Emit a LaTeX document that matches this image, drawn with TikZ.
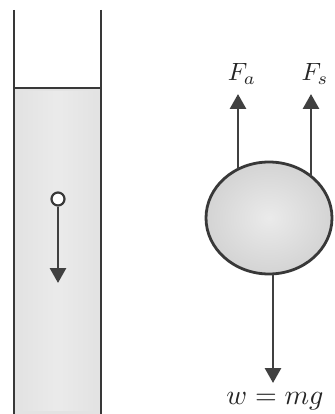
\documentclass[tikz,border=0pt]{standalone}
\usetikzlibrary{arrows.meta,shapes.geometric,calc}
\begin{document}
\begin{tikzpicture}[x=1pt,y=-1pt,
  wall/.style={draw=black!78,line width=2.8pt},
  force/.style={draw=black!75,line width=2.8pt,-{Triangle[width=16pt,length=15pt]}},
  lbl/.style={inner sep=0pt,text=black!85}]
\useasboundingbox (0,0) rectangle (334,414);
% liquid
\fill[black!11] (14,88) rectangle (101,414);
\shade[left color=black!11,right color=black!11,middle color=black!8] (20,92) rectangle (95,410);
\draw[wall] (14,10) -- (14,414);
\draw[wall] (101,10) -- (101,414);
\draw[wall] (14,88) -- (101,88);
% small bead
\node[circle,draw=black!78,fill=white,line width=2.2pt,minimum size=13pt,inner sep=0pt] (bead) at (58,199) {};
\coordinate (beadtip) at (58,283);
\draw[force] (bead.south) -- (beadtip);
% ball
\node[ellipse,draw=black!78,line width=2.8pt,inner color=black!8,outer color=black!17,minimum width=126pt,minimum height=112pt,inner sep=0pt] (ball) at (269,218) {};
\coordinate (fatip) at (238,94);
\coordinate (fstip) at (311,94);
\coordinate (wtip) at (273,383);
\draw[force] ($(ball.center)+(-31,-48.8)$) -- (fatip);
\draw[force] ($(ball.center)+(42,-41.7)$) -- (fstip);
\draw[force] ($(ball.center)+(4,55.9)$) -- (wtip);
\node[lbl] (fa) at (242,74) {\scalebox{2.5}{$F_a$}};
\node[lbl] (fs) at (315,74) {\scalebox{2.5}{$F_s$}};
\node[lbl] (w) at (275,401) {\scalebox{2.8}{$w=mg$}};
\end{tikzpicture}
\end{document}
